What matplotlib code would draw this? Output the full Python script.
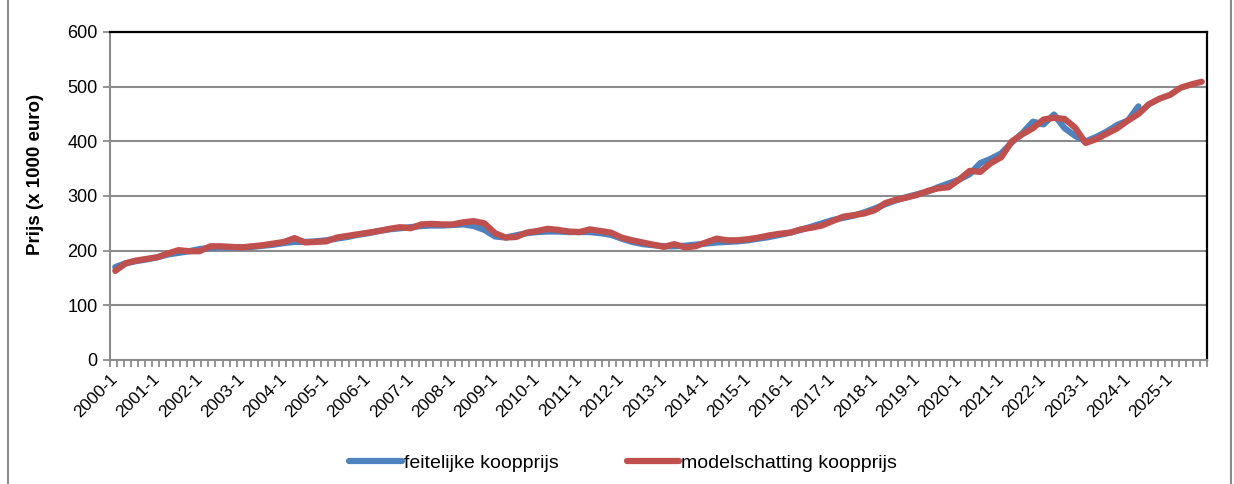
import numpy as np
import matplotlib
matplotlib.use('Agg')
import matplotlib.pyplot as plt
from matplotlib.lines import Line2D

plt.rcParams['font.family'] = ['Liberation Sans', 'DejaVu Sans']

# quarterly readings, 2000-Q1 onwards (x 1000 euro)
years = list(range(2000, 2026))
actual = [
    170, 177, 181, 184,  188, 193, 196, 199,  203, 205, 206, 206,
    206, 207, 209, 211,  214, 216, 216, 217,  219, 222, 225, 229,
    232, 236, 239, 241,  243, 245, 246, 246,  247, 248, 245, 238,
    226, 224, 228, 232,  234, 235, 235, 234,  234, 234, 232, 229,
    222, 216, 212, 210,  208, 208, 209, 211,  213, 215, 216, 217,
    219, 222, 225, 229,  233, 238, 244, 250,  256, 260, 264, 270,
    277, 285, 292, 298,  303, 308, 316, 323,  330, 340, 360, 368,
    378, 398, 415, 436,  431, 449, 424, 410,  400, 408, 418, 430,
    438, 464,
]
model = [
    163, 177, 182, 185,  188, 195, 201, 199,  199, 208, 208, 207,
    206, 208, 210, 213,  216, 223, 215, 216,  217, 224, 227, 230,
    233, 236, 240, 243,  241, 248, 249, 248,  248, 252, 254, 250,
    232, 224, 225, 233,  236, 240, 238, 235,  234, 239, 236, 233,
    224, 219, 215, 211,  207, 212, 206, 208,  215, 222, 219, 219,
    221, 224, 228, 231,  233, 239, 242, 246,  254, 262, 265, 268,
    274, 287, 293, 297,  302, 309, 314, 316,  330, 346, 344, 360,
    371, 400, 413, 424,  440, 443, 441, 425,  397, 404, 414, 424,
    438, 450, 468, 478,  485, 498, 504, 509,
]
tick_labels = [f'{y}-1' for y in years]

# monthly category axis: quarter value sits on its middle month
n_months = 12 * len(years)
x_actual = np.arange(len(actual)) * 3 + 1.5
x_model = np.arange(len(model)) * 3 + 1.5

fig = plt.figure(figsize=(12.34, 4.84), dpi=100)
ax = fig.add_axes([110 / 1234, 1 - 360 / 484, 1097 / 1234, 328 / 484])

ax.plot(x_actual, actual, color='#4f81bd', lw=4.5, solid_capstyle='round', zorder=3)
ax.plot(x_model, model, color='#c0504d', lw=4.5, solid_capstyle='round', zorder=4)

ax.set_xlim(0, n_months)
ax.set_ylim(0, 600)
ax.set_yticks(range(0, 601, 100))
ax.set_xticks(np.arange(0, n_months + 1, 2), minor=True)
ax.set_xticks(np.arange(0, n_months, 12))
ax.set_xticklabels(tick_labels, rotation=45, ha='right', rotation_mode='anchor', fontsize=12.5)
ax.tick_params(axis='y', labelsize=13, length=5, color='#8c8c8c', width=1.3, pad=4)
ax.tick_params(axis='x', which='both', length=5, color='#8c8c8c', width=1.3, pad=3)

ax.grid(axis='y', color='#8c8c8c', lw=1.5, zorder=1)
ax.set_axisbelow(True)
for side in ('left', 'bottom'):
    ax.spines[side].set_color('#8c8c8c')
    ax.spines[side].set_linewidth(1.5)
for side in ('top', 'right'):
    ax.spines[side].set_color('black')
    ax.spines[side].set_linewidth(1.6)

ax.set_ylabel('Prijs (x 1000 euro)', fontsize=13.5, fontweight='bold')
ax.yaxis.set_label_coords(-0.060, 0.567)

handles = [Line2D([], [], color='#4f81bd', lw=4.5, solid_capstyle='round'),
           Line2D([], [], color='#c0504d', lw=4.5, solid_capstyle='round')]
fig.legend(handles, ['feitelijke koopprijs', 'modelschatting koopprijs'],
           loc='center', bbox_to_anchor=(0.505, 1 - 463 / 484), ncol=2, frameon=False,
           fontsize=14, handlelength=2.7, handletextpad=0.1, columnspacing=3.5)

# outer chart frame
fig.add_artist(Line2D([8 / 1234, 8 / 1234], [0, 1], color='#8c8c8c', lw=1.5))
fig.add_artist(Line2D([1231 / 1234, 1231 / 1234], [0, 1], color='#8c8c8c', lw=1.5))

fig.savefig('out.png', dpi=100)
